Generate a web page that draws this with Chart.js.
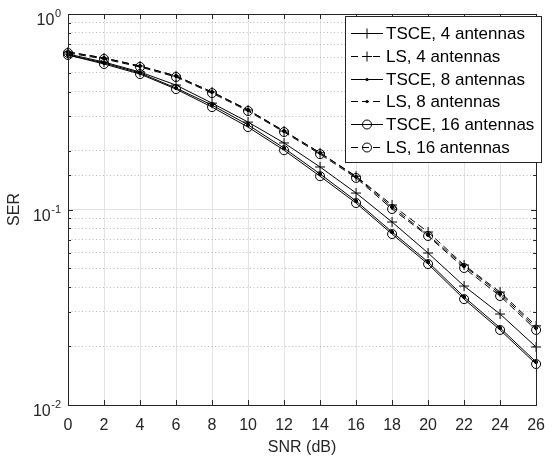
<!DOCTYPE html>
<html>
<head>
<meta charset="utf-8">
<script src="https://cdn.jsdelivr.net/npm/chart.js@4"></script>
<style>
  body { margin: 0; background: #fff; }
  canvas { display: block; }
</style>
</head>
<body>
<canvas id="serChart" width="556" height="462"></canvas>
<script>
// data
const snr = [0, 2, 4, 6, 8, 10, 12, 14, 16, 18, 20, 22, 24, 26];
const tsce4 = [0.624, 0.568, 0.505, 0.433, 0.350, 0.280, 0.219, 0.165, 0.1214, 0.0863, 0.0599, 0.0406, 0.0292, 0.0198];
const ls4 = [0.639, 0.596, 0.542, 0.482, 0.399, 0.323, 0.252, 0.195, 0.148, 0.1054, 0.0767, 0.0520, 0.0378, 0.0254];
const tsce8 = [0.617, 0.562, 0.499, 0.418, 0.342, 0.271, 0.206, 0.152, 0.1105, 0.0767, 0.0539, 0.0357, 0.0248, 0.0166];
const ls8 = [0.639, 0.596, 0.542, 0.482, 0.399, 0.323, 0.252, 0.195, 0.147, 0.1030, 0.0741, 0.0514, 0.0370, 0.0248];
const tsce16 = [0.617, 0.555, 0.493, 0.413, 0.334, 0.264, 0.201, 0.148, 0.1079, 0.0749, 0.0526, 0.0348, 0.0242, 0.0162];
const ls16 = [0.632, 0.589, 0.536, 0.476, 0.394, 0.319, 0.249, 0.192, 0.145, 0.1006, 0.0732, 0.0502, 0.0361, 0.0242];
const seriesNames = ["TSCE, 4 antennas", "LS, 4 antennas", "TSCE, 8 antennas", "LS, 8 antennas", "TSCE, 16 antennas", "LS, 16 antennas"];
const yDecades = [1, 0.1, 0.01];
const yDecadeExp = ["0", "-1", "-2"];

const axisColor = "#262626";
const fontFamily = "'Liberation Sans', Arial, Helvetica, sans-serif";
const dash = [7, 4];

function series(label, data, marker, dashed) {
  return {
    label: label,
    data: data.map((v, i) => ({ x: snr[i], y: v })),
    borderColor: "#000",
    borderWidth: 1,
    borderDash: dashed ? dash : [],
    pointStyle: marker === "plus" ? "cross" : "circle",
    pointRadius: marker === "plus" ? 5 : marker === "o" ? 4.5 : 1.6,
    pointBorderWidth: 1,
    pointBorderColor: "#000",
    pointBackgroundColor: marker === "dot" ? "#000" : "rgba(0,0,0,0)",
    marker: marker,
    fill: false,
    tension: 0,
    clip: false,
  };
}

function isDecade(v) {
  const l = Math.log10(v);
  return Math.abs(l - Math.round(l)) < 1e-6;
}

// inward ticks, box, y labels with exponents, legend
const matlabAxes = {
  id: "matlabAxes",
  afterDraw(chart) {
    const ctx = chart.ctx;
    const a = chart.chartArea;
    const xs = chart.scales.x;
    const ys = chart.scales.y;
    ctx.save();
    ctx.strokeStyle = axisColor;
    ctx.lineWidth = 1;
    ctx.setLineDash([]);
    ctx.beginPath();
    snr.forEach((v) => {
      const px = Math.round(xs.getPixelForValue(v)) + 0.5;
      ctx.moveTo(px, a.bottom);
      ctx.lineTo(px, a.bottom - 5);
      ctx.moveTo(px, a.top);
      ctx.lineTo(px, a.top + 5);
    });
    ys.ticks.forEach((t) => {
      const py = Math.round(ys.getPixelForValue(t.value)) + 0.5;
      const len = isDecade(t.value) ? 5 : 3;
      ctx.moveTo(a.left, py);
      ctx.lineTo(a.left + len, py);
      ctx.moveTo(a.right, py);
      ctx.lineTo(a.right - len, py);
    });
    ctx.stroke();
    ctx.strokeRect(Math.round(a.left) + 0.5, Math.round(a.top) + 0.5, Math.round(a.right - a.left), Math.round(a.bottom - a.top));

    // y tick labels 10^n
    ctx.fillStyle = axisColor;
    ctx.textBaseline = "alphabetic";
    yDecades.forEach((v, i) => {
      const py = ys.getPixelForValue(v);
      const rightX = a.left - 7;
      ctx.font = "11px " + fontFamily;
      ctx.textAlign = "right";
      const ew = ctx.measureText(yDecadeExp[i]).width;
      ctx.fillText(yDecadeExp[i], rightX, py + 3);
      ctx.font = "16px " + fontFamily;
      ctx.fillText("10", rightX - ew - 0.5, py + 11);
    });

    // legend
    const lx = 345.5, ly = 16.5, lw = 196, lh = 146;
    ctx.fillStyle = "#fff";
    ctx.fillRect(lx, ly, lw, lh);
    ctx.strokeStyle = axisColor;
    ctx.strokeRect(lx, ly, lw, lh);
    chart.data.datasets.forEach((ds, i) => {
      const y = Math.round(33 + 22.75 * i) + 0.5;
      ctx.strokeStyle = "#000";
      ctx.setLineDash(ds.borderDash);
      ctx.beginPath();
      ctx.moveTo(351, y);
      ctx.lineTo(383, y);
      ctx.stroke();
      ctx.setLineDash([]);
      const mx = 367;
      ctx.beginPath();
      if (ds.marker === "plus") {
        ctx.moveTo(mx - 5, y);
        ctx.lineTo(mx + 5, y);
        ctx.moveTo(mx, y - 5);
        ctx.lineTo(mx, y + 5);
        ctx.stroke();
      } else if (ds.marker === "o") {
        ctx.arc(mx, y, 4.5, 0, Math.PI * 2);
        ctx.stroke();
      } else {
        ctx.fillStyle = "#000";
        ctx.arc(mx, y, 1.6, 0, Math.PI * 2);
        ctx.fill();
      }
      ctx.fillStyle = "#000";
      ctx.font = "17px " + fontFamily;
      ctx.textAlign = "left";
      ctx.textBaseline = "middle";
      ctx.fillText(ds.label, 386, y + 1);
    });
    ctx.restore();
  },
};

const ctxSer = document.getElementById("serChart").getContext("2d");
const serChart = new Chart(ctxSer, {
  type: "line",
  data: {
    datasets: [
      series(seriesNames[0], tsce4, "plus", false),
      series(seriesNames[1], ls4, "plus", true),
      series(seriesNames[2], tsce8, "dot", false),
      series(seriesNames[3], ls8, "dot", true),
      series(seriesNames[4], tsce16, "o", false),
      series(seriesNames[5], ls16, "o", true),
    ],
  },
  options: {
    responsive: false,
    animation: false,
    layout: {
      padding: { top: 14, right: 10, left: 0, bottom: 0 },
    },
    scales: {
      x: {
        type: "linear",
        min: 0,
        max: 26,
        afterFit: (scale) => {
          scale.height = 57;
        },
        ticks: {
          stepSize: 2,
          autoSkip: false,
          maxRotation: 0,
          padding: 11,
          color: axisColor,
          font: { family: fontFamily, size: 16 },
        },
        grid: {
          color: "#e3e3e3",
          lineWidth: 1,
          drawTicks: false,
        },
        border: { display: false },
        title: {
          display: true,
          text: "SNR (dB)",
          color: axisColor,
          font: { family: fontFamily, size: 16 },
          padding: { top: 0, bottom: 5 },
        },
      },
      y: {
        type: "logarithmic",
        min: 0.01,
        max: 1,
        afterFit: (scale) => {
          scale.width = 68;
        },
        ticks: {
          display: false,
        },
        grid: {
          drawTicks: false,
          lineWidth: 1,
          color: (c) => (c.tick && isDecade(c.tick.value) ? "#e3e3e3" : "#b8b8b8"),
        },
        border: {
          display: false,
          dash: (c) => (c.type === "tick" && c.tick && !isDecade(c.tick.value) ? [1, 2.5] : []),
        },
        title: {
          display: true,
          text: "SER",
          color: axisColor,
          font: { family: fontFamily, size: 16 },
          padding: { top: 5, bottom: 0 },
        },
      },
    },
    plugins: {
      legend: { display: false },
      tooltip: { enabled: false },
    },
  },
  plugins: [matlabAxes],
});
</script>
</body>
</html>
